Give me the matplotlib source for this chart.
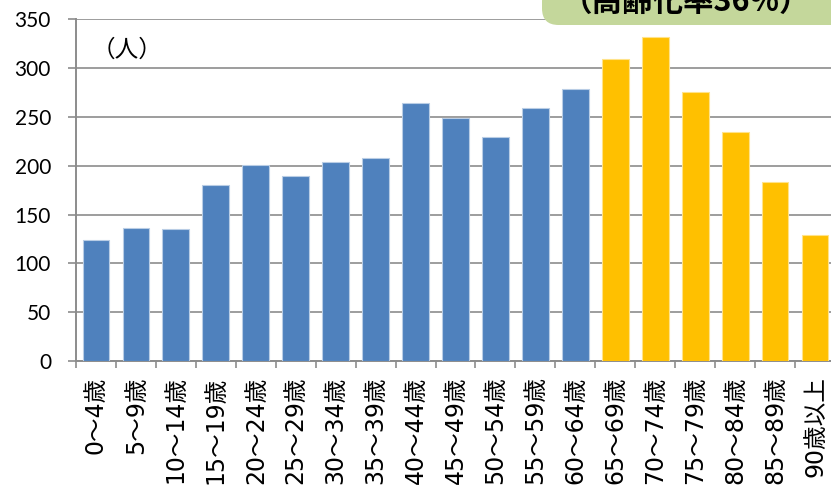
import matplotlib
matplotlib.use("Agg")
import matplotlib.pyplot as plt
from matplotlib.patches import FancyBboxPatch
from matplotlib.ticker import FixedLocator

plt.rcParams['font.family'] = ['Noto Sans CJK JP', 'DejaVu Sans']

categories = ["0～4歳", "5～9歳", "10～14歳", "15～19歳", "20～24歳", "25～29歳",
              "30～34歳", "35～39歳", "40～44歳", "45～49歳", "50～54歳", "55～59歳",
              "60～64歳", "65～69歳", "70～74歳", "75～79歳", "80～84歳", "85～89歳",
              "90歳以上"]
values = [124, 136, 135, 180, 201, 190, 204, 208, 264, 249, 229, 259, 279,
          309, 332, 276, 235, 183, 129]
elderly_start = 13
y_ticks = [0, 50, 100, 150, 200, 250, 300, 350]
unit_label = "（人）"
badge_text = "（高齢化率36%）"

W, H = 831, 486
fig = plt.figure(figsize=(W / 100, H / 100), dpi=100)
ax = fig.add_axes([76 / W, 1 - 361 / H, (835 - 76) / W, (361 - 19.4) / H])

colors = ["#4F81BD" if i < elderly_start else "#FFC000" for i in range(len(values))]
edges = ["#B9CDE5" if i < elderly_start else "#FFE38A" for i in range(len(values))]
x = list(range(len(values)))
ax.bar(x, values, width=0.67, color=colors, edgecolor=edges, linewidth=0.8, zorder=3)

ax.set_xlim(-0.5, len(values) - 0.5)
ax.set_ylim(0, 350)
ax.set_yticks(y_ticks)
ax.set_yticklabels([str(v) for v in y_ticks], family=['Lato', 'DejaVu Sans'], fontsize=15)
ax.yaxis.grid(True, color="#8C8C8C", linewidth=1.2, zorder=0)
ax.set_axisbelow(True)

ax.set_xticks(x)
ax.set_xticklabels(categories, rotation=90, fontsize=17, va='top', ha='center',
                   family=['DejaVu Sans', 'Noto Sans CJK JP'])
ax.xaxis.set_minor_locator(FixedLocator([i - 0.5 for i in range(len(values) + 1)]))
ax.tick_params(axis='x', which='major', length=0, pad=11)
ax.tick_params(axis='x', which='minor', length=5, width=1.2, color="#8C8C8C")
ax.tick_params(axis='y', length=6, width=1.2, color="#8C8C8C", pad=12)

for s in ['top', 'right']:
    ax.spines[s].set_visible(False)
for s in ['left', 'bottom']:
    ax.spines[s].set_color("#8C8C8C")
    ax.spines[s].set_linewidth(1.4)

ax.text(0.775, 318.5, unit_label, fontsize=17, ha='center', va='center')

box = FancyBboxPatch((542 / W, 1 - 25 / H), (W - 542 + 30) / W, 40 / H,
                     boxstyle="round,pad=0,rounding_size=0.02",
                     transform=fig.transFigure, facecolor="#C4D79B",
                     edgecolor="none", zorder=5, mutation_aspect=W / H)
fig.patches.append(box)
fig.text(686 / W, 1 - 2 / H, badge_text, fontsize=22, fontweight='bold',
         ha='center', va='center', zorder=6)

fig.savefig("out.png", dpi=100)
